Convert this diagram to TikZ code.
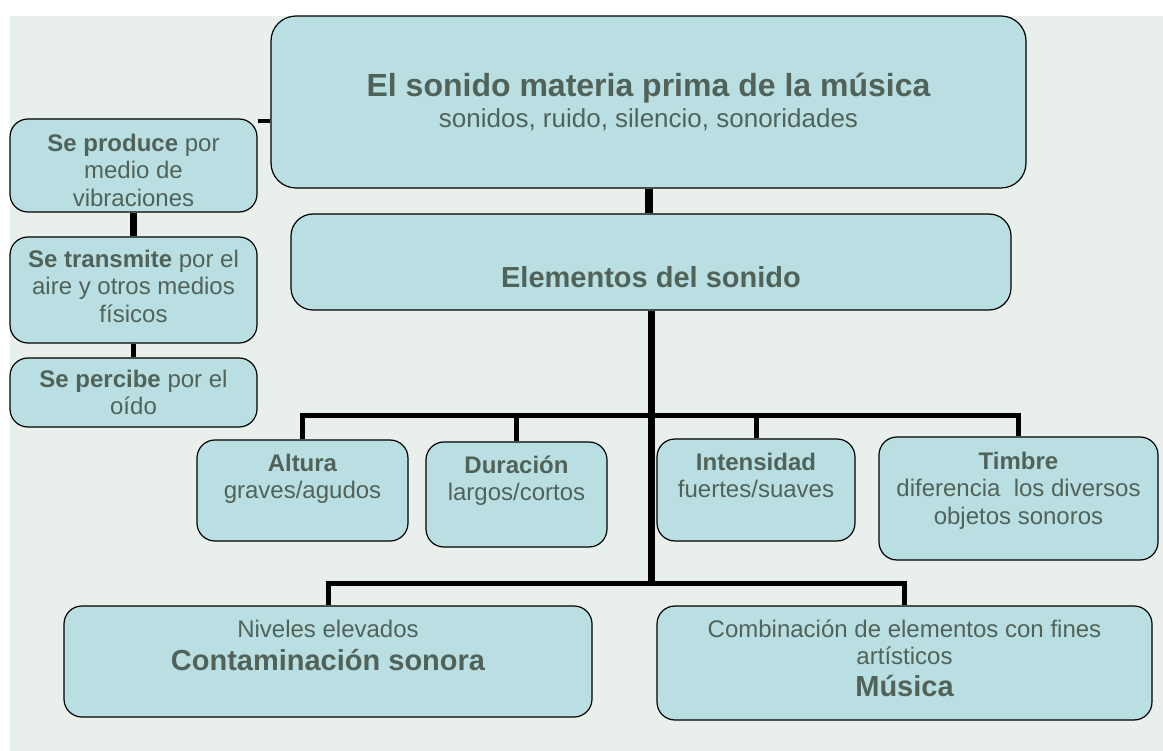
\documentclass[tikz,border=0pt]{standalone}
\usepackage{fontspec}
\setmainfont{Liberation Sans}

\definecolor{bgpanel}{RGB}{233,240,236}
\definecolor{boxfill}{RGB}{185,223,227}
\definecolor{txt}{RGB}{81,99,89}

% text block inside a box: [top pad]{width}{height}{text}
\newcommand{\boxtext}[4][12]{\parbox[c][#3pt][t]{#2pt}{\centering\vspace*{#1pt}\strut #4}}

\begin{document}
\begin{tikzpicture}[x=1pt,y=-1pt,
  box/.style={draw=black, line width=1.2pt, fill=boxfill, rounded corners=18pt,
    inner sep=0pt, text=txt, font=\fontsize{24}{27.5}\selectfont},
  link/.style={draw=black, line width=5pt}]
\fill[white] (0,0) rectangle (1163,751);
\fill[bgpanel] (10,16) rectangle (1163,751);

% main boxes
\node[box, rounded corners=25pt] (sonido) at (648.5,102) {\boxtext[57]{755}{172}{{\fontsize{32}{38}\selectfont\bfseries El sonido materia prima de la música\par}{\fontsize{26}{31}\selectfont sonidos, ruido, silencio, sonoridades\par}}};
\node[box, rounded corners=22pt] (elementos) at (651,262) {\boxtext[52]{720}{96}{\fontsize{29}{34}\selectfont\bfseries Elementos del sonido}};

% side boxes
\node[box] (produce) at (133.5,165.5) {\boxtext[13]{247}{93}{\textbf{Se produce} por\\medio de\\vibraciones}};
\node[box] (transmite) at (133.5,290) {\boxtext[11]{247}{106}{\textbf{Se transmite} por el\\aire y otros medios\\físicos}};
\node[box] (percibe) at (133.5,392.5) {\boxtext[10]{247}{69}{\textbf{Se percibe} por el\\oído}};

% elements
\node[box] (altura) at (302.5,490.5) {\boxtext{211}{101}{\textbf{Altura}\\graves/agudos}};
\node[box] (duracion) at (516.5,494.5) {\boxtext{181}{105}{\textbf{Duración}\\largos/cortos}};
\node[box] (intensidad) at (756,490) {\boxtext{198}{102}{\textbf{Intensidad}\\fuertes/suaves}};
\node[box] (timbre) at (1018.5,498.5) {\boxtext[13]{279}{123}{\textbf{Timbre}\\diferencia\ \ los diversos\\objetos sonoros}};

% bottom
\node[box] (contaminacion) at (328,661.5) {\boxtext{528}{111}{{Niveles elevados\par}{\fontsize{29}{33}\selectfont\bfseries Contaminación sonora\par}}};
\node[box] (musica) at (904.5,663) {\boxtext{495}{114}{Combinación de elementos con fines\\artísticos\par{\fontsize{29}{32}\selectfont\bfseries Música\par}}};

% connectors
\coordinate (side) at ([yshift=-3pt]produce.north east);
\draw[link, line width=4pt] (side) -- (side -| sonido.west);
\draw[link, line width=7.5pt] (produce.south) -- (transmite.north);
\draw[link] (transmite.south) -- (percibe.north);
\draw[link, line width=8pt] (sonido.south) -- (sonido.south |- elementos.north);

\coordinate (bus1) at (651,416);
\coordinate (bus2) at (651,583);
\draw[link, line width=7pt] (elementos.south) -- ([yshift=-2pt]bus2);
\foreach \n in {altura,duracion,intensidad,timbre}
  \draw[link] (\n.north) |- (bus1);
\foreach \n in {contaminacion,musica}
  \draw[link] (\n.north) |- (bus2);
\end{tikzpicture}
\end{document}
